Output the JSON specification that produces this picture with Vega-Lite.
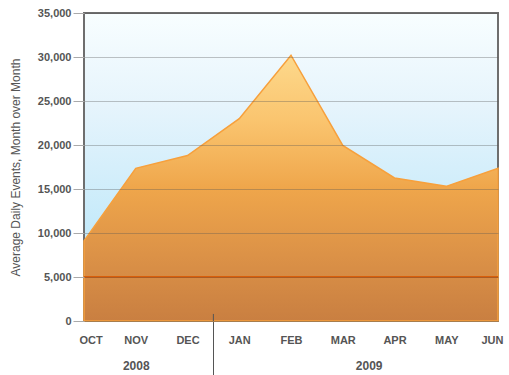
{
  "$schema": "https://vega.github.io/schema/vega-lite/v6.json",
  "width": 414,
  "height": 308,
  "autosize": "none",
  "padding": {"left": 84, "top": 13, "right": 11, "bottom": 54},
  "background": "white",
  "config": {
    "font": "Liberation Sans",
    "view": {
      "stroke": "#6e6e6e",
      "strokeWidth": 2,
      "fill": {
        "gradient": "linear", "x1": 0, "y1": 0, "x2": 0, "y2": 1,
        "stops": [
          {"offset": 0, "color": "#f8feff"},
          {"offset": 0.3, "color": "#e6f4fc"},
          {"offset": 0.7, "color": "#c5eafa"},
          {"offset": 1, "color": "#a6dff9"}
        ]
      }
    }
  },
  "datasets": {
    "events": [
      {"month": "OCT", "year": "2008", "events": 9100},
      {"month": "NOV", "year": "2008", "events": 17350},
      {"month": "DEC", "year": "2008", "events": 18800},
      {"month": "JAN", "year": "2009", "events": 23000},
      {"month": "FEB", "year": "2009", "events": 30200},
      {"month": "MAR", "year": "2009", "events": 19950},
      {"month": "APR", "year": "2009", "events": 16250},
      {"month": "MAY", "year": "2009", "events": 15300},
      {"month": "JUN", "year": "2009", "events": 17350}
    ]
  },
  "layer": [
    {
      "data": {"name": "events"},
      "mark": {
        "type": "area",
        "stroke": "#f7a03c",
        "strokeWidth": 1.5,
        "color": {
          "gradient": "linear", "x1": 0, "y1": 0, "x2": 0, "y2": 1,
          "stops": [
            {"offset": 0, "color": "#fdd98c"},
            {"offset": 0.25, "color": "#fac46e"},
            {"offset": 0.5, "color": "#efa64b"},
            {"offset": 0.75, "color": "#dc9247"},
            {"offset": 1, "color": "#c97f41"}
          ]
        }
      },
      "encoding": {
        "x": {
          "field": "month", "type": "ordinal", "sort": null,
          "scale": {"type": "point", "padding": 0},
          "axis": {
            "orient": "bottom", "title": null, "ticks": false, "domain": false, "grid": false,
            "labelAngle": 0, "labelFontSize": 11, "labelFontWeight": "bold",
            "labelColor": "#555555", "labelPadding": 13,
            "labelFlush": true, "labelFlushOffset": 5
          }
        },
        "y": {
          "field": "events", "type": "quantitative",
          "scale": {"domain": [0, 35000], "nice": false},
          "axis": {
            "title": "Average Daily Events, Month over Month",
            "titleFontSize": 12, "titleFontWeight": "normal", "titleColor": "#555555",
            "titlePadding": 15,
            "values": [0, 5000, 10000, 15000, 20000, 25000, 30000, 35000],
            "format": ",d",
            "labelFontSize": 11, "labelFontWeight": "bold", "labelColor": "#555555",
            "labelPadding": 2, "tickSize": 11, "tickColor": "#aaaaaa",
            "domain": false, "grid": true, "gridColor": "#555555", "gridOpacity": 0.35,
            "zindex": 1
          }
        }
      }
    },
    {
      "data": {"values": [{"target": 5000}]},
      "mark": {"type": "rule", "color": "#d95f0a", "strokeWidth": 2},
      "encoding": {
        "y": {"field": "target", "type": "quantitative"}
      }
    },
    {
      "data": {"values": [{"boundary": 2.5, "from": 0, "to": 800}]},
      "mark": {"type": "rule", "color": "#555555", "strokeWidth": 1},
      "encoding": {
        "x": {
          "field": "boundary", "type": "quantitative",
          "scale": {"domain": [0, 8], "nice": false, "zero": false},
          "axis": {
            "orient": "bottom", "title": null, "domain": false, "grid": false,
            "values": [1, 2.5, 5.5],
            "labelExpr": "datum.value == 1 ? '2008' : datum.value == 5.5 ? '2009' : ''",
            "tickSize": 54, "tickColor": "#555555",
            "tickOpacity": {"condition": {"test": "datum.value == 2.5", "value": 1}, "value": 0},
            "labelPadding": -15, "labelFontSize": 12, "labelFontWeight": "bold",
            "labelColor": "#555555"
          }
        },
        "y": {"field": "from", "type": "quantitative"},
        "y2": {"field": "to"}
      }
    }
  ],
  "resolve": {"scale": {"x": "independent"}}
}
